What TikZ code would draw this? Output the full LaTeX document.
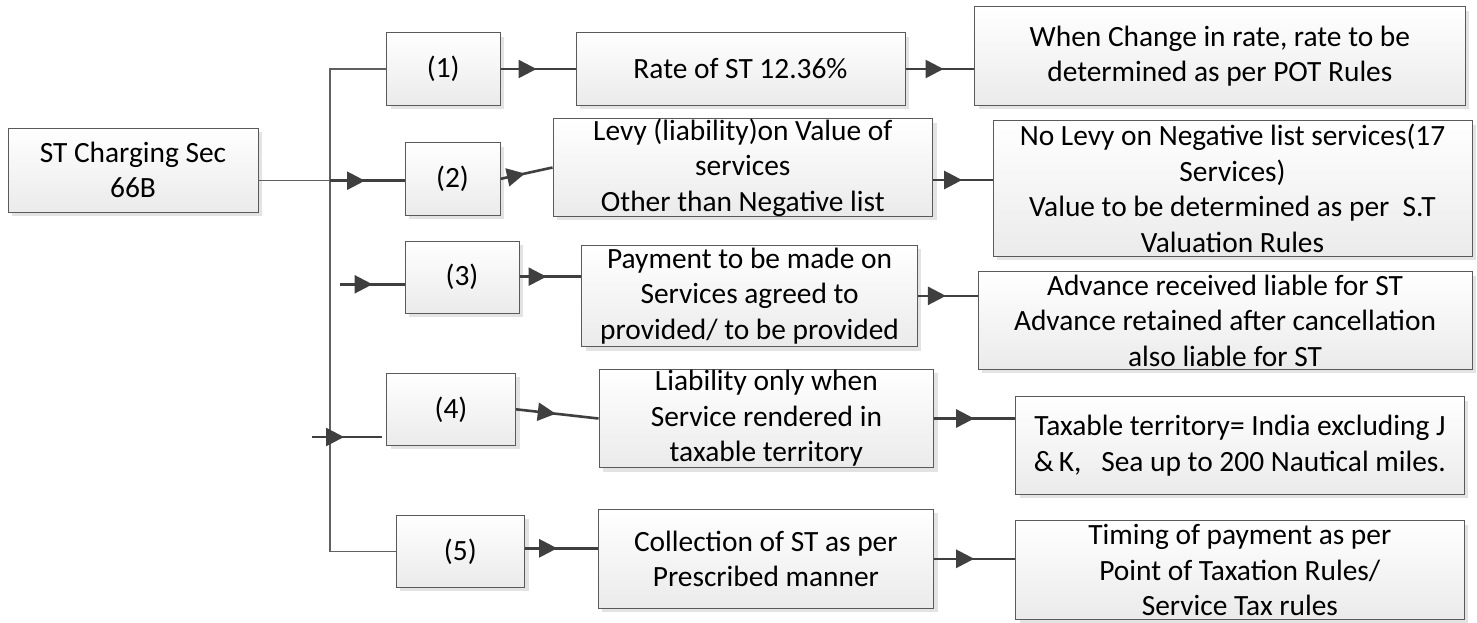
\documentclass[tikz,border=0pt]{standalone}
\usepackage{fontspec}
\setmainfont{Carlito}
\usetikzlibrary{arrows.meta,decorations.markings,shadows}
\definecolor{lineC}{HTML}{3F3F3F}
\definecolor{boxC}{HTML}{5A5A5A}
\definecolor{busC}{HTML}{606060}
\begin{document}
\begin{tikzpicture}[x=1pt,y=-1pt,
  box/.style 2 args={draw=boxC, line width=1pt, top color=white, bottom color=black!8,
    drop shadow={shadow xshift=4pt, shadow yshift=-4pt, fill=black!11, opacity=1},
    minimum width=#1pt, minimum height=#2pt, inner sep=0pt, align=center,
    font=\fontsize{29.4}{35.5}\selectfont},
  conn/.style={draw=lineC, line width=2.6pt,
    decoration={markings, mark=at position #1 with {\arrow{Triangle[length=18pt,width=18pt]}}},
    postaction={decorate}},
  bus/.style={draw=busC, line width=1.1pt}
]
\useasboundingbox (0,0) rectangle (1477,622);

% first column
\node[box={250}{84}] (ST) at (133,170) {ST Charging Sec\\66B};

% numbered boxes
\node[box={113.5}{72.6}] (B1) at (443.25,69) {(1)};
\node[box={95}{72.3}] (B2) at (452.5,178.85) {(2)};
\node[box={114}{72.3}] (B3) at (462,277.15) {(3)};
\node[box={129}{72}] (B4) at (451,409.3) {(4)};
\node[box={128.7}{72}] (B5) at (460.35,551.3) {(5)};

% middle column
\node[box={329}{72.6}] (Rate) at (740.5,69) {Rate of ST 12.36\%};
\node[box={379.6}{95}] (Levy) at (742.8,167.5) {Levy (liability)on Value of\\services\\Other than Negative list};
\node[box={335.7}{101.7}] (Pay) at (749.55,295.85) {Payment to be made on\\Services agreed to\\provided/ to be provided};
\node[box={334.7}{98.4}] (Liab) at (766.35,418.5) {Liability only when\\Service rendered in\\taxable territory};
\node[box={335.7}{99}] (Coll) at (765.85,558.8) {Collection of ST as per\\Prescribed manner};

% right column
\node[box={490.3}{98.6}] (When) at (1219.85,56) {When Change in rate, rate to be\\determined as per POT Rules};
\node[box={479}{135.3}] (NoLevy) at (1232.5,188.35) {No Levy on Negative list services(17\\Services)\\Value to be determined as per\ \ S.T\\Valuation Rules};
\node[box={494}{97.6}] (Adv) at (1225,320.5) {Advance received liable for ST\\Advance retained after cancellation\\also liable for ST};
\node[box={448.3}{97.6}] (Tax) at (1239.85,445.5) {Taxable territory= India excluding J\\\&\,K,\ \ \ Sea up to 200 Nautical miles.};
\node[box={448.3}{98.6}] (Tim) at (1239.85,570) {Timing of payment as per\\Point of Taxation Rules/\\Service Tax rules};

% bus
\coordinate (bx) at (330,300);
\coordinate (b2) at (330,180.7);
\coordinate (in3) at (339.5,284.3);
\coordinate (in4) at (312,437);
\draw[bus] (B1.west) -| (bx) |- (B5.west);
\draw[bus] ([yshift=-10.7pt]ST.east) -- (b2);

% connectors into numbered boxes
\draw[conn=35pt] (b2) -- (b2 -| B2.west);
\draw[conn=33pt] (in3) -- (in3 -| B3.west);
\draw[conn=32pt, shorten >=4pt] (in4) -- (in4 -| B4.west);

% numbered -> middle
\draw[conn=36pt] (B1.east) -- (Rate.west);
\draw[conn=25pt] (B2.east) -- (Levy.west);
\draw[conn=27pt] ([yshift=0.5pt]B3.east) -- ([yshift=0.5pt]B3.east -| Pay.west);
\draw[conn=40pt] (B4.east) -- (Liab.west);
\draw[conn=32pt] ([yshift=3pt]B5.east) -- ([yshift=3pt]B5.east -| Coll.west);

% middle -> right
\draw[conn=38pt] (Rate.east) -- (Rate.east -| When.west);
\draw[conn=29pt] ([yshift=-12.5pt]Levy.east) -- ([yshift=-12.5pt]Levy.east -| NoLevy.west);
\draw[conn=28pt] (Pay.east) -- (Pay.east -| Adv.west);
\draw[conn=40pt] (Liab.east) -- (Liab.east -| Tax.west);
\draw[conn=40pt] (Coll.east) -- (Coll.east -| Tim.west);
\end{tikzpicture}
\end{document}
